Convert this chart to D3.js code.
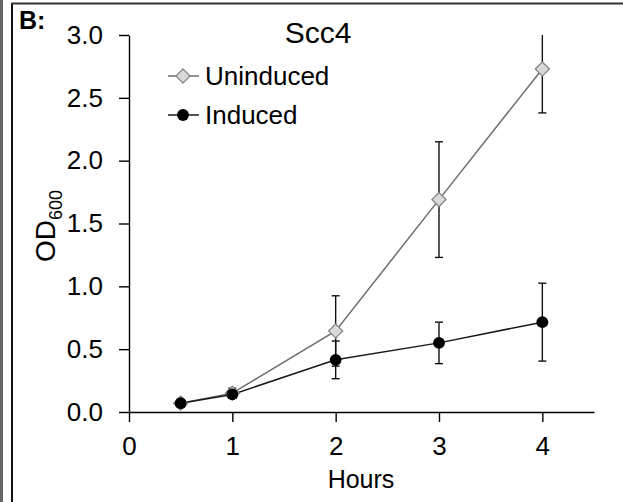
<!DOCTYPE html>
<html>
<head>
<meta charset="utf-8">
<script src="https://cdn.jsdelivr.net/npm/d3@7"></script>
<style>
  body { margin: 0; background: #fff; }
  svg { display: block; font-family: "Liberation Sans", Arial, sans-serif; }
</style>
</head>
<body>
<svg id="chart" width="623" height="502"></svg>
<script>
// hours sampled
var hours = [0.5, 1, 2, 3, 4]

// OD600 means and error
var uninduced = [0.07, 0.15, 0.645, 1.69, 2.73]
var uninducedErr = [0.01, 0.04, 0.28, 0.46, 0.35]
var induced = [0.07, 0.14, 0.415, 0.55, 0.715]
var inducedErr = [0.01, 0.03, 0.15, 0.165, 0.31]

var xTicks = [0, 1, 2, 3, 4]
var yTicks = [0, 0.5, 1, 1.5, 2, 2.5, 3]

var svg = d3.select("#chart")

// panel frame
svg.append("rect").attr("x", 0).attr("y", 0).attr("width", 3).attr("height", 502).attr("fill", "#666")
svg.append("line").attr("x1", 12).attr("x2", 12).attr("y1", 3).attr("y2", 502)
  .attr("stroke", "#111").attr("stroke-width", 2)
svg.append("line").attr("x1", 11).attr("x2", 623).attr("y1", 3.5).attr("y2", 3.5)
  .attr("stroke", "#333").attr("stroke-width", 2)

svg.append("text").attr("x", 19).attr("y", 29)
  .attr("font-size", 25).attr("font-weight", "bold").text("B:")

var x = d3.scaleLinear().domain([0, 4.5]).range([129, 594])
var y = d3.scaleLinear().domain([0, 3]).range([412, 35])

svg.append("defs").append("clipPath").attr("id", "plotclip")
  .append("rect").attr("x", 100).attr("y", 35).attr("width", 523).attr("height", 467)

// axes
svg.append("g")
  .attr("transform", "translate(" + x(0) + ",0)")
  .call(d3.axisLeft(y).tickValues(yTicks).tickFormat(d3.format(".1f"))
    .tickSize(10).tickSizeOuter(0).tickPadding(16))
svg.append("g")
  .attr("transform", "translate(0," + y(0) + ")")
  .call(d3.axisBottom(x).tickValues(xTicks).tickFormat(d3.format("d"))
    .tickSize(10).tickSizeOuter(0).tickPadding(15))

svg.selectAll(".tick text").attr("font-size", 26).attr("font-family", null).attr("fill", "#000")
svg.selectAll(".domain, .tick line").attr("stroke", "#000").attr("stroke-width", 1.4)

svg.append("text").attr("x", 361).attr("y", 488).attr("text-anchor", "middle")
  .attr("font-size", 25).text("Hours")

var ylab = svg.append("text")
  .attr("transform", "translate(55,226) rotate(-90)")
  .attr("text-anchor", "middle").attr("font-size", 28)
ylab.append("tspan").text("OD")
ylab.append("tspan").attr("dy", 7).attr("font-size", 18).text("600")

svg.append("text").attr("x", 318).attr("y", 43).attr("text-anchor", "middle")
  .attr("font-size", 30).text("Scc4")

var plot = svg.append("g").attr("clip-path", "url(#plotclip)")

var series = [
  { name: "Uninduced", values: uninduced, err: uninducedErr, line: "#6e6e6e", kind: "diamond" },
  { name: "Induced", values: induced, err: inducedErr, line: "#1a1a1a", kind: "circle" }
]

var diamond = d3.symbol().type(d3.symbolSquare).size(100)
var circle = d3.symbol().type(d3.symbolCircle).size(110)

function marker(sel, kind) {
  if (kind === "diamond") {
    sel.append("path").attr("d", diamond)
      .attr("transform", function(d) { return "translate(" + d[0] + "," + d[1] + ") rotate(45)" })
      .attr("fill", "#d9d9d9").attr("stroke", "#808080").attr("stroke-width", 1.2)
  } else {
    sel.append("path").attr("d", circle)
      .attr("transform", function(d) { return "translate(" + d[0] + "," + d[1] + ")" })
      .attr("fill", "#000")
  }
}

// error bars
series.forEach(function(s) {
  var bars = plot.append("g").selectAll("g").data(hours).enter().append("g")
    .attr("stroke", "#111").attr("stroke-width", 1.4)
  bars.append("line")
    .attr("x1", function(d) { return x(d) }).attr("x2", function(d) { return x(d) })
    .attr("y1", function(d, i) { return y(s.values[i] + s.err[i]) })
    .attr("y2", function(d, i) { return y(s.values[i] - s.err[i]) })
  ;[1, -1].forEach(function(sign) {
    bars.append("line")
      .attr("x1", function(d) { return x(d) - 4 }).attr("x2", function(d) { return x(d) + 4 })
      .attr("y1", function(d, i) { return y(s.values[i] + sign * s.err[i]) })
      .attr("y2", function(d, i) { return y(s.values[i] + sign * s.err[i]) })
  })
})

var line = d3.line()
  .x(function(d) { return x(d[0]) })
  .y(function(d) { return y(d[1]) })

series.forEach(function(s) {
  var pts = hours.map(function(h, i) { return [h, s.values[i]] })
  plot.append("path").datum(pts).attr("d", line)
    .attr("fill", "none").attr("stroke", s.line).attr("stroke-width", 1.5)
})

series.forEach(function(s) {
  var pts = hours.map(function(h, i) { return [x(h), y(s.values[i])] })
  var g = plot.append("g").selectAll("g").data(pts).enter().append("g")
  marker(g, s.kind)
})

// legend
var legend = svg.append("g")
series.forEach(function(s, i) {
  var ly = 76 + i * 39
  legend.append("line").attr("x1", 168).attr("x2", 199).attr("y1", ly).attr("y2", ly)
    .attr("stroke", s.line).attr("stroke-width", 1.5)
  marker(legend.append("g").datum([183, ly]), s.kind)
  legend.append("text").attr("x", 205).attr("y", ly + 9).attr("font-size", 26).text(s.name)
})
</script>
</body>
</html>
